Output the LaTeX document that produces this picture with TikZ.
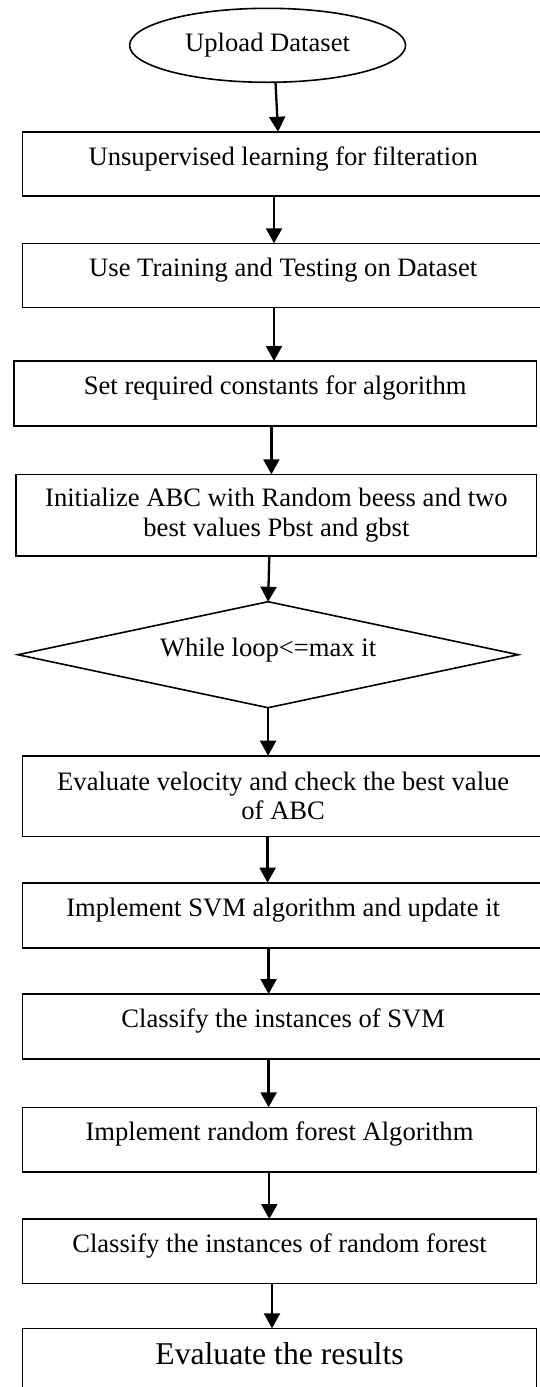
\documentclass[tikz,border=0pt]{standalone}
\usepackage{fontspec}
\setmainfont{Liberation Serif}
\usetikzlibrary{shapes.geometric,arrows.meta}
\begin{document}
\begin{tikzpicture}[x=1pt,y=-1pt,
  base/.style={draw,line width=1.6pt,inner sep=0pt,outer sep=0pt,align=center,
    font=\fontsize{26.6}{29.5}\selectfont},
  box/.style={base,rectangle},
  onel/.style={text height=18.6pt,text depth=16pt},
  arr/.style={line width=2.3pt,-{Triangle[width=16pt,length=15pt]}}]
\path[use as bounding box,clip] (0,0) rectangle (540,1387);
\node[base,ellipse,minimum width=276pt,minimum height=74pt] (e) at (267.6,45.3) {Upload Dataset};
\node[box,onel,minimum width=521.6pt,minimum height=64.3pt] (b1) at (283.2,163.85) {Unsupervised learning for filteration};
\node[box,onel,minimum width=521.6pt,minimum height=64pt] (b2) at (283.2,275.3) {Use Training and Testing on Dataset};
\node[box,onel,minimum width=522.8pt,minimum height=64.7pt] (b3) at (275.2,393.35) {Set required constants for algorithm};
\node[box,minimum width=520.4pt,minimum height=81.7pt] (b4) at (276.4,515.15) {Initialize ABC with Random beess and two\\best values Pbst and gbst};
\node[base,diamond,onel,shape aspect=4.7,minimum width=500.4pt,minimum height=106pt] (d) at (268.1,654.7) {While loop<=max it};
\node[box,minimum width=521.6pt,minimum height=80.8pt] (b5) at (283.2,796.1) {Evaluate velocity and check the best value\\of ABC};
\node[box,onel,minimum width=521.6pt,minimum height=65pt] (b6) at (283.2,915.2) {Implement SVM algorithm and update it};
\node[box,onel,minimum width=521.6pt,minimum height=64.7pt] (b7) at (283.2,1026.35) {Classify the instances of SVM};
\node[box,onel,minimum width=514.2pt,minimum height=64.7pt] (b8) at (279.5,1139.65) {Implement random forest Algorithm};
\node[box,onel,minimum width=514.2pt,minimum height=64.3pt] (b9) at (279.5,1251.15) {Classify the instances of random forest};
\node[box,minimum width=514.2pt,minimum height=68.7pt,text height=22pt,text depth=19pt,
  font=\fontsize{31.7}{35}\selectfont] (b10) at (279.5,1362.65) {Evaluate the results};
\draw[arr] (e.south -| 275.5,0) -- (b1.north -| 278,0);
\draw[arr] (b1.south -| 274,0) -- (b2.north -| 274,0);
\draw[arr] (b2.south -| 274,0) -- (b3.north -| 274,0);
\draw[arr] (b3.south -| 271.4,0) -- (b4.north -| 271.4,0);
\draw[arr] (b4.south -| 269.3,0) -- (d.north);
\draw[arr] (d.south) -- (b5.north -| d.south);
\draw[arr] (b5.south -| 267.6,0) -- (b6.north -| 267.6,0);
\draw[arr] (b6.south -| 268.6,0) -- (b7.north -| 268.6,0);
\draw[arr] (b7.south -| 268.6,0) -- (b8.north -| 268.6,0);
\draw[arr] (b8.south -| 269.3,0) -- (b9.north -| 269.3,0);
\draw[arr] (b9.south -| 272,0) -- (b10.north -| 272,0);
\end{tikzpicture}
\end{document}
